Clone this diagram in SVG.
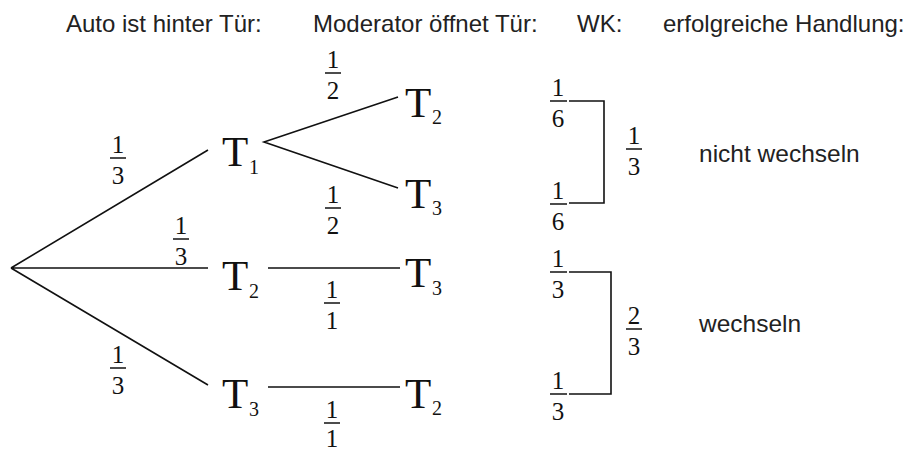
<svg xmlns="http://www.w3.org/2000/svg" width="912" height="451" viewBox="0 0 912 451">
<style>
.h{font-family:"Liberation Sans",Arial,sans-serif;font-size:24px;fill:#222}
.r{font-family:"Liberation Sans",Arial,sans-serif;font-size:24.5px;fill:#222}
.t{font-family:"Liberation Serif","Times New Roman",serif;font-size:43px;fill:#111}
.s{font-family:"Liberation Serif","Times New Roman",serif;font-size:20px;fill:#111}
.f{font-family:"Liberation Serif","Times New Roman",serif;font-size:25px;fill:#111;text-anchor:middle}
.ln{stroke:#111;stroke-width:1.6;fill:none}
.bar{stroke:#111;stroke-width:1.5}
</style>
<g id="headers">
<text class="h" x="66" y="32">Auto ist hinter Tür:</text>
<text class="h" x="313" y="32">Moderator öffnet Tür:</text>
<text class="h" x="577" y="32">WK:</text>
<text class="h" x="663" y="32">erfolgreiche Handlung:</text>
</g>
<g id="connectors">
<path class="ln" d="M11,268 L208,150 M11,268 L208,268 M11,268 L208,385"/>
<path class="ln" d="M398,97 L264,142 L398,188"/>
<path class="ln" d="M268,268 L400,268 M268,387 L400,387"/>
<path class="ln" d="M569,101 H604 V203 H569"/>
<path class="ln" d="M569,272 H611 V394 H569"/>
</g>
<g id="n-T1"><text class="t" x="222" y="166">T</text><text class="s" x="249" y="174">1</text></g>
<g id="n-T2"><text class="t" x="222" y="290">T</text><text class="s" x="249" y="298">2</text></g>
<g id="n-T3"><text class="t" x="222" y="408">T</text><text class="s" x="249" y="416">3</text></g>
<g id="n-T1-T2"><text class="t" x="405" y="117">T</text><text class="s" x="432" y="124">2</text></g>
<g id="n-T1-T3"><text class="t" x="405" y="208">T</text><text class="s" x="432" y="215">3</text></g>
<g id="n-T2-T3"><text class="t" x="405" y="287">T</text><text class="s" x="432" y="295">3</text></g>
<g id="n-T3-T2"><text class="t" x="405" y="408">T</text><text class="s" x="432" y="415">2</text></g>
<g id="fractions">
<g><text class="f" x="118" y="153">1</text><line class="bar" x1="110" y1="158" x2="126" y2="158"/><text class="f" x="118" y="184">3</text></g>
<g><text class="f" x="181" y="234">1</text><line class="bar" x1="173" y1="239" x2="189" y2="239"/><text class="f" x="181" y="265">3</text></g>
<g><text class="f" x="118" y="363">1</text><line class="bar" x1="110" y1="368" x2="126" y2="368"/><text class="f" x="118" y="394">3</text></g>
<g><text class="f" x="333" y="68">1</text><line class="bar" x1="325" y1="73" x2="341" y2="73"/><text class="f" x="333" y="99">2</text></g>
<g><text class="f" x="333" y="203">1</text><line class="bar" x1="325" y1="208" x2="341" y2="208"/><text class="f" x="333" y="234">2</text></g>
<g><text class="f" x="332" y="298">1</text><line class="bar" x1="324" y1="303" x2="340" y2="303"/><text class="f" x="332" y="329">1</text></g>
<g><text class="f" x="332" y="418">1</text><line class="bar" x1="324" y1="423" x2="340" y2="423"/><text class="f" x="332" y="447">1</text></g>
<g><text class="f" x="558" y="96">1</text><line class="bar" x1="550" y1="101" x2="567" y2="101"/><text class="f" x="558" y="127">6</text></g>
<g><text class="f" x="558" y="199">1</text><line class="bar" x1="550" y1="204" x2="567" y2="204"/><text class="f" x="558" y="230">6</text></g>
<g><text class="f" x="634" y="144">1</text><line class="bar" x1="626" y1="149" x2="642" y2="149"/><text class="f" x="634" y="175">3</text></g>
<g><text class="f" x="558" y="267">1</text><line class="bar" x1="550" y1="272" x2="567" y2="272"/><text class="f" x="558" y="298">3</text></g>
<g><text class="f" x="558" y="389">1</text><line class="bar" x1="550" y1="394" x2="567" y2="394"/><text class="f" x="558" y="420">3</text></g>
<g><text class="f" x="634" y="324">2</text><line class="bar" x1="626" y1="329" x2="642" y2="329"/><text class="f" x="634" y="355">3</text></g>
</g>
<g id="results">
<text class="r" x="699" y="162">nicht wechseln</text>
<text class="r" x="699" y="332">wechseln</text>
</g>
</svg>
